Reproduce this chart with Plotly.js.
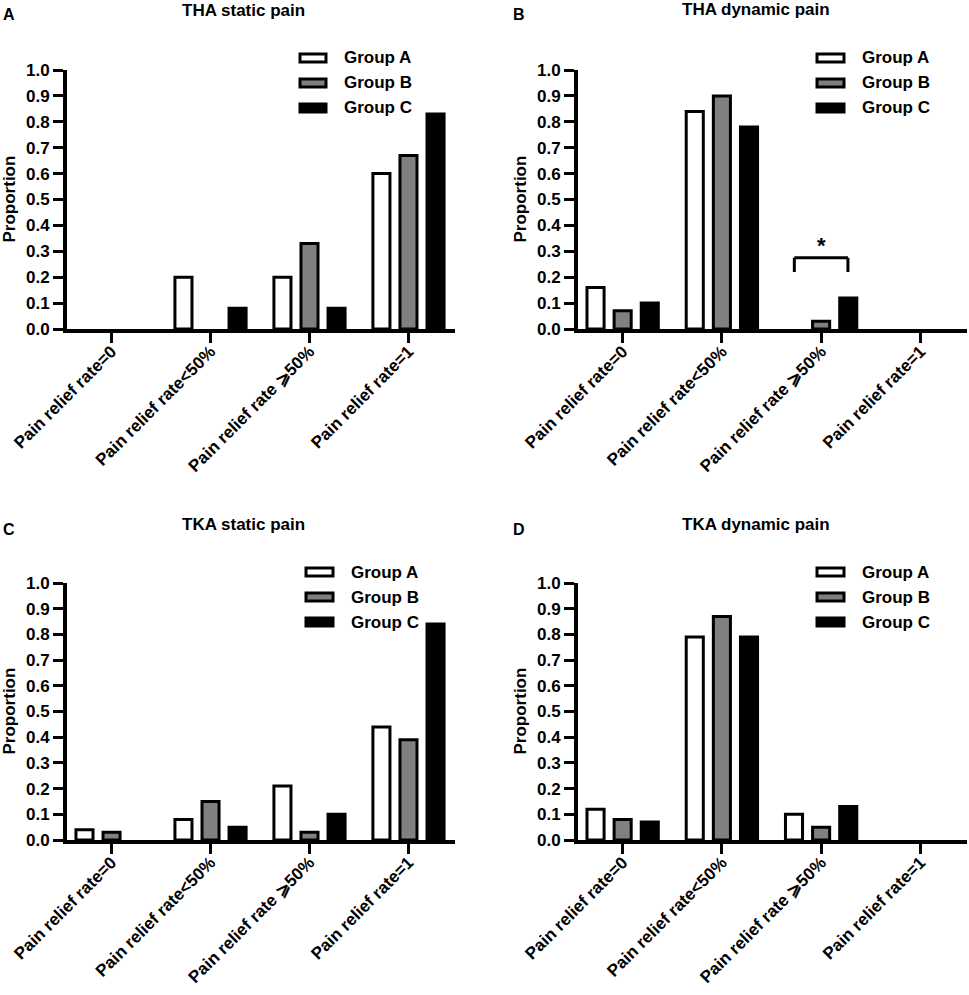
<!DOCTYPE html>
<html>
<head>
<meta charset="utf-8">
<script src="https://cdn.plot.ly/plotly-3.0.1.min.js"></script>
<style>
  body { margin: 0; background: #fff; }
  #chart { width: 969px; height: 995px; }
</style>
</head>
<body>
<div id="chart"></div>
<script>
// Categories and groups
const categories = ['Pain relief rate=0', 'Pain relief rate<50%', 'Pain relief rate \u2A7E50%', 'Pain relief rate=1'];
const groups = ['Group A', 'Group B', 'Group C'];
const groupColors = ['#ffffff', '#808080', '#000000'];

// A - THA static pain
const thaStaticA = [0, 0.20, 0.20, 0.60];
const thaStaticB = [0, 0, 0.33, 0.67];
const thaStaticC = [0, 0.08, 0.08, 0.83];

// B - THA dynamic pain
const thaDynamicA = [0.16, 0.84, 0, 0];
const thaDynamicB = [0.07, 0.90, 0.03, 0];
const thaDynamicC = [0.10, 0.78, 0.12, 0];

// C - TKA static pain
const tkaStaticA = [0.04, 0.08, 0.21, 0.44];
const tkaStaticB = [0.03, 0.15, 0.03, 0.39];
const tkaStaticC = [0, 0.05, 0.10, 0.84];

// D - TKA dynamic pain
const tkaDynamicA = [0.12, 0.79, 0.10, 0];
const tkaDynamicB = [0.08, 0.87, 0.05, 0];
const tkaDynamicC = [0.07, 0.79, 0.13, 0];

const yTicks = [0, 0.1, 0.2, 0.3, 0.4, 0.5, 0.6, 0.7, 0.8, 0.9, 1.0];

const panels = [
  {letter: 'A', title: 'THA static pain', series: [thaStaticA, thaStaticB, thaStaticC]},
  {letter: 'B', title: 'THA dynamic pain', series: [thaDynamicA, thaDynamicB, thaDynamicC]},
  {letter: 'C', title: 'TKA static pain', series: [tkaStaticA, tkaStaticB, tkaStaticC]},
  {letter: 'D', title: 'TKA dynamic pain', series: [tkaDynamicA, tkaDynamicB, tkaDynamicC]}
];

// pixel layout of the 4 panels (figure is 969 x 995)
const W = 969, H = 995;
const px = v => v / W;
const py = v => 1 - v / H;
const panelX = [[67, 455], [578, 967], [67, 455], [578, 967]];
const panelY = [[70, 329], [70, 329], [583, 840], [583, 840]];
const titleXY = [[243, 10], [756, 9], [243, 524], [756, 524]];
const letterXY = [[9, 15], [519, 14], [9, 529], [519, 529]];
const legendPos = [
  {x0: 300, x1: 326, tx: 342, rows: [58, 83, 108]},
  {x0: 817, x1: 844, tx: 860, rows: [58, 83, 108]},
  {x0: 306, x1: 333, tx: 349, rows: [572, 597, 622]},
  {x0: 817, x1: 844, tx: 860, rows: [572, 597, 622]}
];

const FONT = 'Liberation Sans, Arial, sans-serif';
const boldFont = (size) => ({family: FONT, size: size, color: '#000', weight: 'bold'});

function esc(s) {
  return s.replace(/&/g, '&amp;').replace(/</g, '&lt;').replace(/>/g, '&gt;');
}

let data = [];
let layout = {
  width: W,
  height: H,
  margin: {l: 0, r: 0, t: 0, b: 0},
  paper_bgcolor: '#fff',
  plot_bgcolor: '#fff',
  showlegend: false,
  barmode: 'group',
  bargap: 0.18,
  bargroupgap: 0.37,
  annotations: [],
  shapes: []
};

panels.forEach((p, i) => {
  const n = i === 0 ? '' : String(i + 1);
  const xName = 'x' + n, yName = 'y' + n;

  p.series.forEach((vals, g) => {
    data.push({
      type: 'bar',
      x: categories,
      y: vals,
      name: groups[g],
      xaxis: xName,
      yaxis: yName,
      // no outline for empty bars, so they stay invisible like the original
      marker: {color: groupColors[g], line: {color: '#000', width: vals.map(v => v === 0 ? 0 : 3)}},
      hoverinfo: 'x+y+name'
    });
  });

  layout['xaxis' + n] = {
    domain: [px(panelX[i][0]), px(panelX[i][1])],
    anchor: yName,
    type: 'category',
    range: [-0.45, 3.47],
    tickvals: categories,
    ticktext: categories.map(esc),
    tickangle: -45,
    tickfont: boldFont(17),
    ticklabelstandoff: -8,
    showline: true, linewidth: 4, linecolor: '#000',
    ticks: 'outside', ticklen: 10, tickwidth: 3, tickcolor: '#000',
    showgrid: false, zeroline: false,
    automargin: false, fixedrange: true
  };
  layout['yaxis' + n] = {
    domain: [py(panelY[i][1]), py(panelY[i][0])],
    anchor: xName,
    range: [0, 1],
    tickvals: yTicks,
    tickformat: '.1f',
    tickfont: boldFont(17),
    showline: true, linewidth: 4, linecolor: '#000',
    ticks: 'outside', ticklen: 10, tickwidth: 3, tickcolor: '#000',
    showgrid: false, zeroline: false,
    automargin: false, fixedrange: true
  };

  // panel title and letter
  layout.annotations.push({
    xref: 'paper', yref: 'paper', x: px(titleXY[i][0]), y: py(titleXY[i][1]),
    text: p.title, showarrow: false, xanchor: 'center', yanchor: 'middle',
    font: boldFont(17)
  });
  layout.annotations.push({
    xref: 'paper', yref: 'paper', x: px(letterXY[i][0]), y: py(letterXY[i][1]),
    text: p.letter, showarrow: false, xanchor: 'center', yanchor: 'middle',
    font: boldFont(16)
  });
  // y axis title
  layout.annotations.push({
    xref: 'paper', yref: 'paper',
    x: px(panelX[i][0] - 58), y: py((panelY[i][0] + panelY[i][1]) / 2),
    text: 'Proportion', textangle: -90, showarrow: false,
    xanchor: 'center', yanchor: 'middle', font: boldFont(17)
  });

  // legend (wide rectangles like the original)
  const lg = legendPos[i];
  groups.forEach((gName, g) => {
    const r = lg.rows[g];
    layout.shapes.push({
      type: 'rect', xref: 'paper', yref: 'paper',
      x0: px(lg.x0), x1: px(lg.x1), y0: py(r + 4), y1: py(r - 4),
      fillcolor: groupColors[g], line: {color: '#000', width: 3}
    });
    layout.annotations.push({
      xref: 'paper', yref: 'paper', x: px(lg.tx), y: py(r),
      text: gName, showarrow: false, xanchor: 'left', yanchor: 'middle',
      font: boldFont(17)
    });
  });
});

// significance bracket in panel B, between Group A and Group C at "rate >=50%"
const sigCat = 2, sigHalf = 0.27, sigLow = 0.22, sigHigh = 0.275;
[[sigCat - sigHalf, sigLow, sigCat - sigHalf, sigHigh],
 [sigCat - sigHalf, sigHigh, sigCat + sigHalf, sigHigh],
 [sigCat + sigHalf, sigHigh, sigCat + sigHalf, sigLow]].forEach(s => {
  layout.shapes.push({
    type: 'line', xref: 'x2', yref: 'y2',
    x0: s[0], y0: s[1], x1: s[2], y1: s[3],
    line: {color: '#000', width: 3}
  });
});
layout.annotations.push({
  xref: 'x2', yref: 'y2', x: sigCat, y: sigHigh - 0.01,
  text: '*', showarrow: false, xanchor: 'center', yanchor: 'bottom',
  font: boldFont(22)
});

Plotly.newPlot('chart', data, layout, {displayModeBar: false, staticPlot: true});
</script>
</body>
</html>
